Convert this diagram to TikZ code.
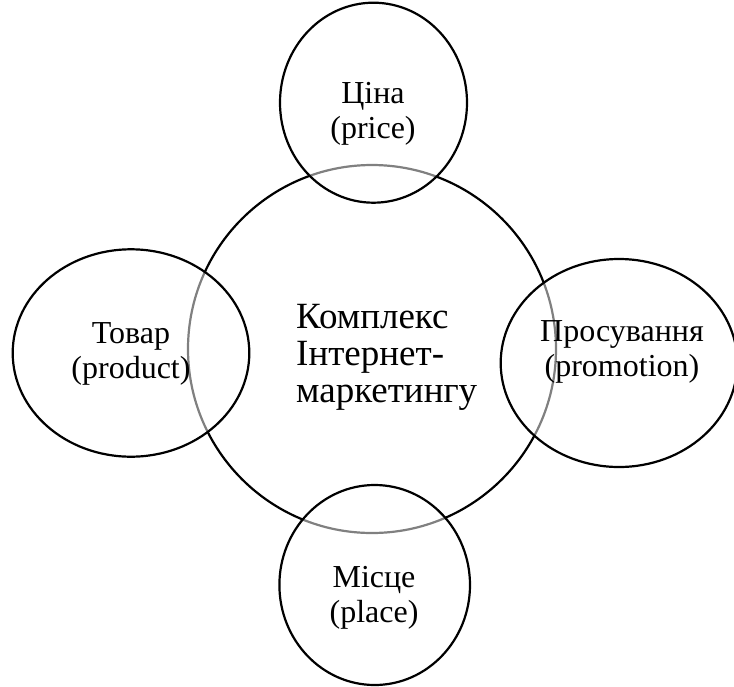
\documentclass[tikz,border=0pt]{standalone}
\usepackage{fontspec}
\setmainfont{Liberation Serif}
\usetikzlibrary{shapes.geometric}
\begin{document}
\begin{tikzpicture}[x=1pt,y=-1pt,
  bigcirc/.style={draw=black,line width=2.2pt,circle,minimum size=368pt,inner sep=0pt},
  smallell/.style={ellipse,draw=black,line width=2.2pt,fill=white,fill opacity=0.5,draw opacity=1,inner sep=0pt},
  smalltxt/.style={align=center,inner sep=0pt,font=\fontsize{32}{35}\selectfont},
  bigtxt/.style={align=left,inner sep=0pt,font=\fontsize{37}{37}\selectfont}]
\useasboundingbox (0,0) rectangle (734,686);
\node[bigcirc] (big) at (372,349) {};
\node[smallell,minimum width=187pt,minimum height=200pt] (top) at (373.5,102.7) {};
\node[smallell,minimum width=236.6pt,minimum height=207.4pt] (left) at (131,353) {};
\node[smallell,minimum width=236.6pt,minimum height=208pt] (right) at (619,363) {};
\node[smallell,minimum width=190.6pt,minimum height=200pt] (bottom) at (374.7,585) {};
\node[smalltxt] (toptxt) at (373,114) {Ціна\\(price)};
\node[smalltxt] (lefttxt) at (131,354) {Товар\\(product)};
\node[smalltxt] (righttxt) at (622,352) {Просування\\(promotion)};
\node[smalltxt] (bottomtxt) at (374,598) {Місце\\(place)};
\node[bigtxt,anchor=west] (bigtxt) at (296,357) {Комплекс\\Інтернет-\\маркетингу};
\end{tikzpicture}
\end{document}
